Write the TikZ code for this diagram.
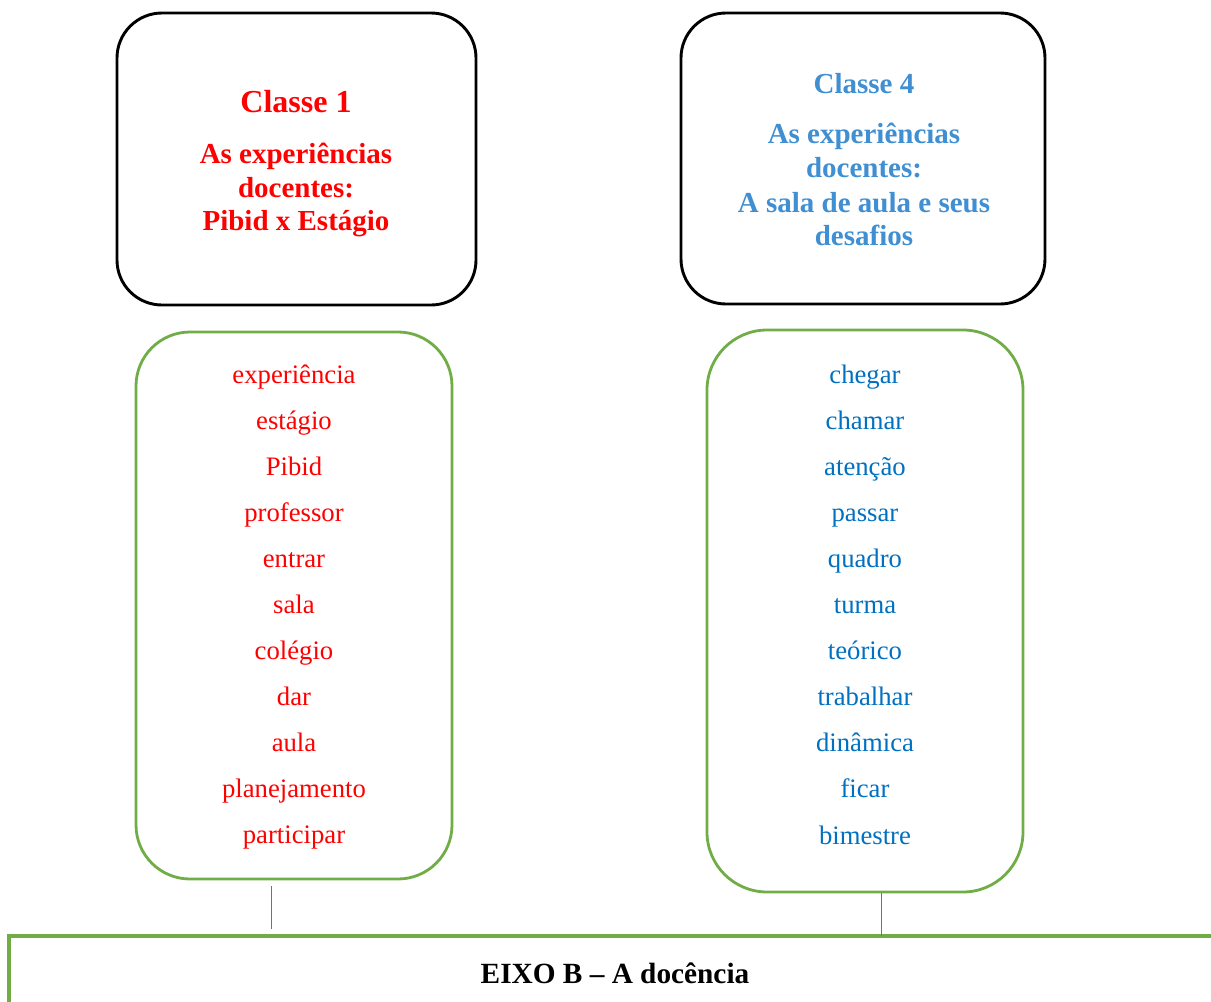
\documentclass[tikz,border=0pt]{standalone}
\usepackage{fontspec}
\setmainfont{Liberation Serif}
\definecolor{cred}{HTML}{FF0000}
\definecolor{tblue}{HTML}{3F8FD2}
\definecolor{wblue}{HTML}{0070C0}
\definecolor{cgreen}{HTML}{70AD47}
\definecolor{lblue}{HTML}{4A76C6}
\begin{document}
\begin{tikzpicture}[x=1pt,y=-1pt,
  classbox/.style={draw=black,line width=2.9pt,rounded corners=45pt,minimum width=#1,inner sep=0pt,outer sep=0pt},
  wordbox/.style={draw=cgreen,line width=2.8pt,rounded corners=54pt,inner sep=0pt,outer sep=0pt},
  ttl/.style={anchor=base,inner sep=0pt,font=\fontsize{29}{33}\selectfont\bfseries},
  wrd/.style={anchor=base,inner sep=0pt,font=\fontsize{26.7}{30}\selectfont},
  conn/.style={draw=lblue,line width=1pt}]
\useasboundingbox (0,0) rectangle (1211,1002);
% boxes
\node[classbox=359pt,minimum height=292pt] (c1) at (296.5,159) {};
\node[classbox=364pt,minimum height=291pt] (c4) at (863,158.5) {};
\node[wordbox,minimum width=316pt,minimum height=547pt] (g1) at (294,605.5) {};
\node[wordbox,minimum width=316pt,minimum height=562pt,rounded corners=60pt] (g4) at (865,611) {};
\node[draw=cgreen,line width=3.4pt,inner sep=0pt,outer sep=0pt,minimum width=1221pt,minimum height=104pt,anchor=north west] (eixo) at (9,936) {};
% titles
\node[ttl,text=cred,font=\fontsize{32}{33}\selectfont\bfseries] (t1a) at (296,112) {Classe 1};
\node[ttl,text=cred] (t1b) at (296,163) {As experiências};
\node[ttl,text=cred] (t1c) at (296,197) {docentes:};
\node[ttl,text=cred] (t1d) at (296,230) {Pibid x Estágio};
\node[ttl,text=tblue] (t4a) at (864,93) {Classe 4};
\node[ttl,text=tblue] (t4b) at (864,143) {As experiências};
\node[ttl,text=tblue] (t4c) at (864,177) {docentes:};
\node[ttl,text=tblue] (t4d) at (864,212) {A sala de aula e seus};
\node[ttl,text=tblue] (t4e) at (864,245) {desafios};
% words
\foreach \w [count=\i from 0] in {experiência,estágio,Pibid,professor,entrar,sala,colégio,dar,aula,planejamento,participar}
  \node[wrd,text=cred] (wl\i) at (294,383+46*\i) {\w};
\foreach \w [count=\i from 0] in {chegar,chamar,atenção,passar,quadro,turma,teórico,trabalhar,dinâmica,ficar,bimestre}
  \node[wrd,text=wblue] (wr\i) at (865,383+46.1*\i) {\w};
% bottom label
\node[anchor=base,inner sep=0pt,font=\fontsize{29.3}{32}\selectfont\bfseries] (eixot) at (615,983) {EIXO B – A docência};
% connectors
\coordinate (a1) at (271,886);
\coordinate (a2) at (271,929);
\draw[conn] (a1) -- (a2);
\coordinate (b1) at (881,893);
\draw[conn] (b1) -- (b1 |- eixo.north);
\end{tikzpicture}
\end{document}
